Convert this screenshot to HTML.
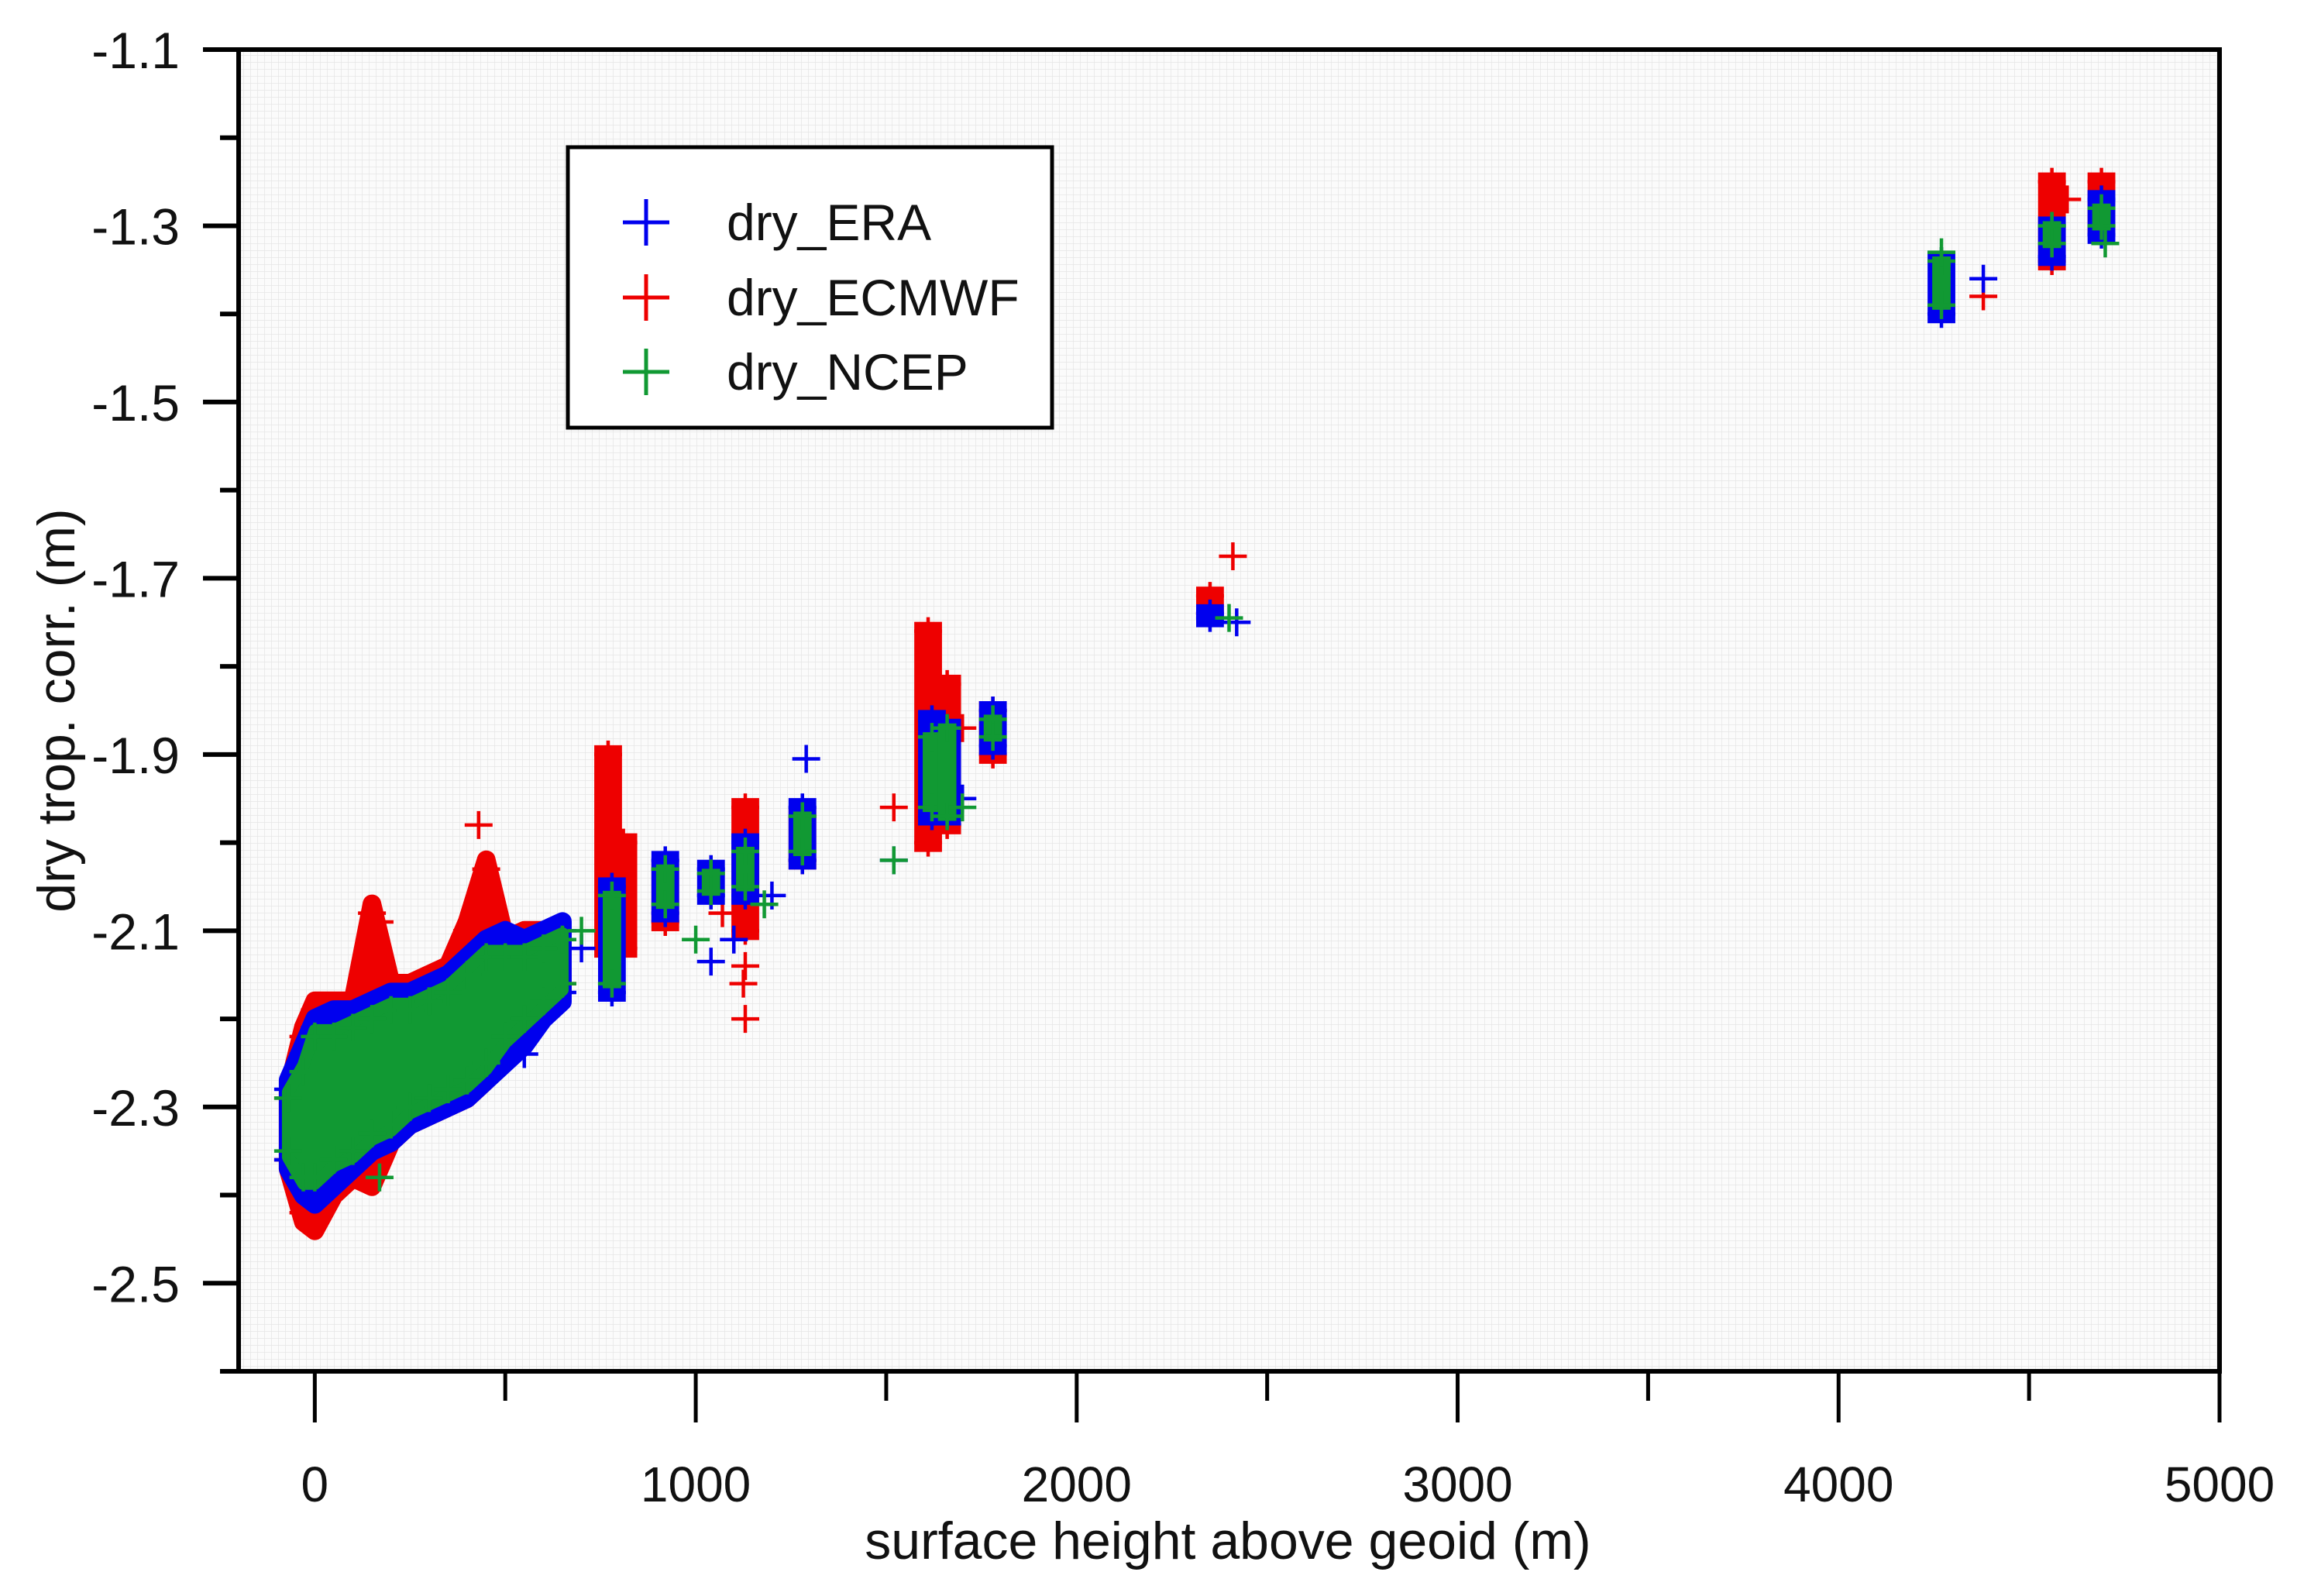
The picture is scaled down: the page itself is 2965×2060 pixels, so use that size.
<!DOCTYPE html>
<html><head><meta charset="utf-8"><style>
html,body{margin:0;padding:0;background:#fff}
svg{display:block;font-family:"Liberation Sans",sans-serif}
</style></head><body>
<svg id="chart" width="2965" height="2060" viewBox="0 0 2965 2060" xmlns="http://www.w3.org/2000/svg">
<defs>
<pattern id="grid" width="9" height="9" patternUnits="userSpaceOnUse">
<rect width="9" height="9" fill="#fbfbfb"/>
<path d="M9 0V9M0 9H9" stroke="#e6e6e6" stroke-width="1.5"/>
</pattern>
</defs>
<rect x="308" y="64" width="2557" height="1706" fill="url(#grid)"/>
<g id="marks"></g>
<g id="axes"></g>
<text x="1585" y="2012" font-size="68" text-anchor="middle" fill="#111">surface height above geoid (m)</text>
<text transform="translate(96,917) rotate(-90)" font-size="68" text-anchor="middle" fill="#111">dry trop. corr. (m)</text>
<g>
<rect x="733" y="190" width="625" height="362" fill="#fff" stroke="#000" stroke-width="5"/>
<g><path d="M804 287H864M834 257V317" stroke="#0000ee" stroke-width="5"/><text x="938" y="310" font-size="66" fill="#111">dry_ERA</text></g>
<g><path d="M804 384H864M834 354V414" stroke="#ee0000" stroke-width="5"/><text x="938" y="407" font-size="66" fill="#111">dry_ECMWF</text></g>
<g><path d="M804 480H864M834 450V510" stroke="#119933" stroke-width="5"/><text x="938" y="503" font-size="66" fill="#111">dry_NCEP</text></g>
</g>
</svg>
<script>
// axis ranges/ticks
const xTicks = [0, 1000, 2000, 3000, 4000, 5000];
const xMinorTicks = [500, 1500, 2500, 3500, 4500];
const yTicks = [-1.1, -1.3, -1.5, -1.7, -1.9, -2.1, -2.3, -2.5];
const yTickLabels = ["-1.1","-1.3","-1.5","-1.7","-1.9","-2.1","-2.3","-2.5"];
const yMinorTicks = [-1.2, -1.4, -1.6, -1.8, -2.0, -2.2, -2.4, -2.6];

// main blob columns: x, ymin, ymax (per series)
const blobX = [-70, -30, 0, 50, 100, 150, 200, 250, 300, 350, 400, 450, 500, 550, 600, 650];
const ncepBlobMin = [-2.35, -2.38, -2.38, -2.36, -2.35, -2.33, -2.32, -2.30, -2.29, -2.28, -2.27, -2.25, -2.22, -2.20, -2.18, -2.16];
const ncepBlobMax = [-2.29, -2.26, -2.22, -2.22, -2.21, -2.20, -2.19, -2.19, -2.18, -2.17, -2.15, -2.13, -2.13, -2.13, -2.12, -2.11];
const eraBlobMin = [-2.36, -2.39, -2.40, -2.38, -2.36, -2.34, -2.33, -2.31, -2.30, -2.29, -2.28, -2.26, -2.24, -2.22, -2.19, -2.17];
const eraBlobMax = [-2.28, -2.24, -2.21, -2.20, -2.20, -2.19, -2.18, -2.18, -2.17, -2.16, -2.14, -2.12, -2.11, -2.12, -2.11, -2.10];
const ecmwfBlobMin = [-2.36, -2.42, -2.43, -2.39, -2.37, -2.38, -2.33, -2.31, -2.30, -2.29, -2.28, -2.26, -2.22, -2.20, -2.17, -2.16];
const ecmwfBlobMax = [-2.29, -2.22, -2.19, -2.19, -2.19, -2.08, -2.17, -2.17, -2.16, -2.15, -2.10, -2.03, -2.12, -2.11, -2.11, -2.11];

// isolated clusters: x center, half width (m), ymin, ymax
const eraClX = [780, 920, 1040, 1130, 1280, 1620, 1660, 1780, 2350, 4270, 4560, 4690];
const eraClMin = [-2.17, -2.08, -2.06, -2.06, -2.02, -1.97, -1.97, -1.89, -1.745, -1.40, -1.335, -1.31];
const eraClMax = [-2.05, -2.02, -2.03, -2.00, -1.96, -1.86, -1.87, -1.85, -1.74, -1.34, -1.30, -1.27];
const ecmwfClX = [770, 810, 920, 1130, 1280, 1610, 1660, 1780, 2350, 4560, 4690];
const ecmwfClMin = [-2.12, -2.12, -2.09, -2.10, -2.02, -2.00, -1.98, -1.90, -1.74, -1.34, -1.30];
const ecmwfClMax = [-1.90, -2.00, -2.03, -1.96, -1.97, -1.76, -1.82, -1.85, -1.72, -1.25, -1.25];
const ncepClX = [780, 920, 1040, 1130, 1280, 1620, 1660, 1780, 4270, 4560, 4690];
const ncepClMin = [-2.16, -2.07, -2.055, -2.05, -2.01, -1.96, -1.97, -1.88, -1.39, -1.32, -1.30];
const ncepClMax = [-2.06, -2.03, -2.035, -2.01, -1.97, -1.88, -1.87, -1.86, -1.34, -1.30, -1.28];
const clHalfW = 12;

// outliers
const ecmwfOutX = [2410, 1520, 1130, 1130, 1125, 4380, 4600, 1700, 430, 170, 1070];
const ecmwfOutY = [-1.675, -1.96, -2.20, -2.14, -2.16, -1.38, -1.27, -1.87, -1.98, -2.09, -2.08];
const eraOutX = [2420, 1040, 1290, 4380, 1520, 700, 1100, 1200, 1700, 550];
const eraOutY = [-1.75, -2.135, -1.905, -1.36, -2.02, -2.12, -2.11, -2.06, -1.95, -2.24];
const ncepOutX = [2400, 1520, 1180, 4700, 1700, 170, 700, 1000, 4270];
const ncepOutY = [-1.745, -2.02, -2.07, -1.32, -1.96, -2.38, -2.10, -2.11, -1.33];

const L = 308, R = 2865, T = 64, B = 1770;
const X0 = -200, X1 = 5000, Y0 = -2.6, Y1 = -1.1;
const sx = v => L + (v - X0) / (X1 - X0) * (R - L);
const sy = v => B - (v - Y0) / (Y1 - Y0) * (B - T);
const NS = "http://www.w3.org/2000/svg";
const marks = document.getElementById('marks');
const axes = document.getElementById('axes');
const ARM = 18;

function mk(tag, attrs, parent) {
  const e = document.createElementNS(NS, tag);
  for (const k in attrs) e.setAttribute(k, attrs[k]);
  parent.appendChild(e);
  return e;
}
function plus(x, y, color, g) {
  const p = mk('path', {d: `M${sx(x)-ARM} ${sy(y)}h${2*ARM}M${sx(x)} ${sy(y)-ARM}v${2*ARM}`, stroke: color, 'stroke-width': 4.5, fill: 'none'}, g);
  
  
}
function blob(xs, mins, maxs, color, g, pad) {
  let top = '', bot = '';
  xs.forEach((x, i) => { top += (i ? 'L' : 'M') + (sx(x)) + ' ' + (sy(maxs[i]) - pad) + ' '; });
  for (let i = xs.length - 1; i >= 0; i--) bot += 'L' + (sx(xs[i])) + ' ' + (sy(mins[i]) + pad) + ' ';
  const p = mk('path', {d: top + bot + 'Z', fill: color, stroke: color, 'stroke-width': 2 * pad, 'stroke-linejoin': 'round'}, g);
  
  
  xs.forEach((x, i) => { plus(x, maxs[i], color, g); plus(x, mins[i], color, g); });
}
function clusters(xs, mins, maxs, color, g, pad) {
  xs.forEach((x, i) => {
    const x0 = sx(x - clHalfW) - pad, x1 = sx(x + clHalfW) + pad;
    const r = mk('rect', {x: x0, y: sy(maxs[i]) - pad, width: x1 - x0, height: sy(mins[i]) - sy(maxs[i]) + 2 * pad, fill: color}, g);
    
    
    plus(x, maxs[i], color, g); plus(x, mins[i], color, g);
  });
}
function outliers(xs, ys, color, g) { xs.forEach((x, i) => plus(x, ys[i], color, g)); }

const gR = mk('g', {}, marks);


const gB = mk('g', {}, marks);


const gG = mk('g', {}, marks);



const RED = '#ee0000', BLUE = '#0000ee', GREEN = '#119933';
blob(blobX, ecmwfBlobMin, ecmwfBlobMax, RED, gR, 12);
clusters(ecmwfClX, ecmwfClMin, ecmwfClMax, RED, gR, 12);
outliers(ecmwfOutX, ecmwfOutY, RED, gR);
blob(blobX, eraBlobMin, eraBlobMax, BLUE, gB, 12);
clusters(eraClX, eraClMin, eraClMax, BLUE, gB, 12);
outliers(eraOutX, eraOutY, BLUE, gB);
blob(blobX, ncepBlobMin, ncepBlobMax, GREEN, gG, 8);
clusters(ncepClX, ncepClMin, ncepClMax, GREEN, gG, 6);
outliers(ncepOutX, ncepOutY, GREEN, gG);

// axes frame
const frame = mk('rect', {x: L, y: T, width: R - L, height: B - T, fill: 'none', stroke: '#000', 'stroke-width': 6}, axes);


xTicks.forEach(v => {
  const t = mk('line', {x1: sx(v), x2: sx(v), y1: B, y2: B + 66, stroke: '#000', 'stroke-width': 5}, axes);
  
  
  const lb = mk('text', {x: sx(v), y: 1938, 'font-size': 64, 'text-anchor': 'middle', fill: '#111'}, axes);
  
  
  lb.textContent = String(v);
});
xMinorTicks.forEach(v => {
  const t = mk('line', {x1: sx(v), x2: sx(v), y1: B, y2: B + 38, stroke: '#000', 'stroke-width': 5}, axes);
  
  
});
yTicks.forEach((v, i) => {
  const t = mk('line', {x1: L - 46, x2: L, y1: sy(v), y2: sy(v), stroke: '#000', 'stroke-width': 6}, axes);
  
  
  const lb = mk('text', {x: 232, y: sy(v) + 24, 'font-size': 66, 'text-anchor': 'end', fill: '#111'}, axes);
  
  
  lb.textContent = yTickLabels[i];
});
yMinorTicks.forEach(v => {
  const t = mk('line', {x1: L - 24, x2: L, y1: sy(v), y2: sy(v), stroke: '#000', 'stroke-width': 6}, axes);
  
  
});
</script>
</body></html>
